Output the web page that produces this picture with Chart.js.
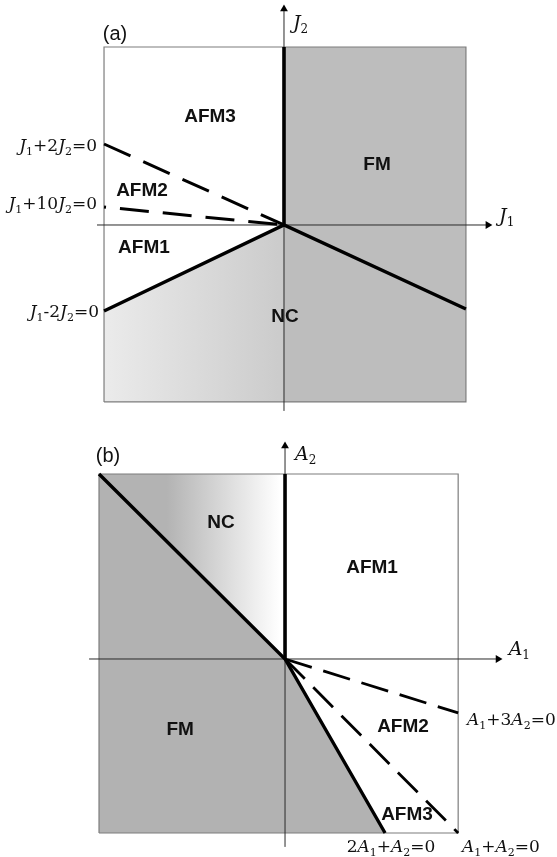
<!DOCTYPE html>
<html>
<head>
<meta charset="utf-8">
<script src="https://cdn.jsdelivr.net/npm/chart.js@4.4.1/dist/chart.umd.min.js"></script>
<style>
  html, body { margin: 0; padding: 0; background: #fff; }
  body { width: 557px; height: 857px; position: relative; overflow: hidden; }
  canvas { position: absolute; left: 0; }
  #chartA { top: 0; }
  #chartB { top: 430px; }
</style>
</head>
<body>
<canvas id="chartA" width="557" height="430"></canvas>
<canvas id="chartB" width="557" height="427"></canvas>
<script>
// ---------- panel (a): J1 / J2 plane ----------
const aViewX = [-1.578, 1.517];           // whole canvas
const aViewY = [-1.139, 1.25];
const aBoxX = [-1, 1.011];                // framed square
const aBoxY = [-0.983, 0.989];
const aAxis1X = [-1.039, 1.133];          // J1 axis (arrow at right end)
const aAxis2Y = [-1.033, 1.2];            // J2 axis (arrow at top end)
const aFmX = [0, 1.011];                  // FM side, shaded down to the frame bottom
const aFmY = [0.989, 0.989];
const aNcX = [-1, 0];                     // NC side, shaded below J1-2J2=0
const aNcY = [-0.478, 0];
const aVertX = [0, 0];
const aVertY = [0, 0.989];
const aSolidX = [-1, 0, 1.011];
const aSolidY = [-0.478, 0, -0.467];
const aDash2X = [-1, 0];
const aDash2Y = [0.45, 0];
const aDash10X = [-1, 0];
const aDash10Y = [0.1, 0];
const aRegionNames = ['AFM3', 'AFM2', 'AFM1', 'NC', 'FM'];
const aRegionX = [-0.411, -0.789, -0.778, 0.006, 0.517];
const aRegionY = [0.6, 0.189, -0.128, -0.511, 0.333];
const aEqNames = ['J_1+2J_2=0', 'J_1+10J_2=0', 'J_1-2J_2=0'];
const aEqX = [-1.039, -1.039, -1.028];
const aEqY = [0.444, 0.122, -0.478];
const aAxisNames = ['J_1', 'J_2'];
const aAxisNameX = [1.195, 0.05];
const aAxisNameY = [0.056, 1.128];

// ---------- panel (b): A1 / A2 plane ----------
const bViewX = [-1.638, 1.563];
const bViewY = [-1.138, 1.316];
const bBoxX = [-1.069, 0.995];
const bBoxY = [-1, 1.063];
const bAxis1X = [-1.126, 1.224];
const bAxis2Y = [-1.08, 1.224];
const bNcX = [-1.069, 0];
const bNcY = [1.063, 1.063];
const bFmX = [-1.069, 0, 0.575];
const bFmY = [1.063, 0, -1];
const bVertX = [0, 0];
const bVertY = [0, 1.063];
const bSolidX = [-1.069, 0, 0.575];
const bSolidY = [1.063, 0, -1];
const bDash1X = [0, 0.995];
const bDash1Y = [0, -1];
const bDash3X = [0, 0.995];
const bDash3Y = [0, -0.31];
const bRegionNames = ['NC', 'AFM1', 'FM', 'AFM2', 'AFM3'];
const bRegionX = [-0.368, 0.5, -0.603, 0.678, 0.701];
const bRegionY = [0.782, 0.523, -0.408, -0.391, -0.897];
const bEqNames = ['A_1+3A_2=0', '2A_1+A_2=0', 'A_1+A_2=0'];
const bEqX = [1.046, 0.609, 1.241];
const bEqY = [-0.345, -1.075, -1.075];
const bEqAlign = ['left', 'center', 'center'];
const bAxisNames = ['A_1', 'A_2'];
const bAxisNameX = [1.285, 0.057];
const bAxisNameY = [0.063, 1.184];

const pts = (xs, ys) => xs.map((x, i) => ({ x: x, y: ys[i] }));

function line(xs, ys, opts) {
    return Object.assign({
        data: pts(xs, ys),
        showLine: true,
        pointRadius: 0,
        borderWidth: 1,
        borderColor: '#000',
        fill: false,
        order: 1
    }, opts);
}

// area between a polyline and the bottom edge of the frame
function shade(xs, ys, floor, color, order) {
    return line(xs, ys, {
        borderColor: 'rgba(0,0,0,0)',
        backgroundColor: color,
        fill: { value: floor },
        order: order
    });
}

// horizontal gradient between two data x values
function hGradient(x0, x1, c0, c1) {
    return (ctx) => {
        const chart = ctx.chart;
        const sx = chart.scales.x;
        if (!sx || !chart.chartArea) return c1;
        const g = chart.ctx.createLinearGradient(sx.getPixelForValue(x0), 0, sx.getPixelForValue(x1), 0);
        g.addColorStop(0, c0);
        g.addColorStop(1, c1);
        return g;
    };
}

function boxBorder(rx, ry) {
    return line([rx[0], rx[0], rx[1], rx[1], rx[0]], [ry[0], ry[1], ry[1], ry[0], ry[0]],
        { borderColor: '#7d7d7d', borderWidth: 1.2, order: 3 });
}

function axes(ax, ay) {
    const arrow = { borderColor: '#2a2a2a', borderWidth: 1, order: 2, pointRadius: [0, 4.5],
        pointStyle: 'triangle', pointBackgroundColor: '#000', pointBorderColor: '#000', pointBorderWidth: 0 };
    return [
        line(ax, [0, 0], Object.assign({ pointRotation: 90 }, arrow)),
        line([0, 0], ay, Object.assign({ pointRotation: 0 }, arrow))
    ];
}

// rich text: capital letters italic, "_d" is a subscript
function drawRich(ctx, str, x, y, align, size) {
    const pieces = [];
    for (let i = 0; i < str.length; i++) {
        if (str[i] === '_') pieces.push({ t: str[++i], sub: true });
        else pieces.push({ t: str[i], it: /[A-Z]/.test(str[i]) });
    }
    const fontFor = p => p.sub ? `${Math.round(size * 0.62)}px "DejaVu Serif"`
        : `${p.it ? 'italic ' : ''}${size}px "DejaVu Serif"`;
    let w = 0;
    pieces.forEach(p => { ctx.font = fontFor(p); p.w = ctx.measureText(p.t).width; w += p.w; });
    let cx = align === 'right' ? x - w : align === 'center' ? x - w / 2 : x;
    const base = y + size * 0.36;
    ctx.textAlign = 'left';
    ctx.textBaseline = 'alphabetic';
    pieces.forEach(p => {
        ctx.font = fontFor(p);
        ctx.fillText(p.t, cx, p.sub ? base + size * 0.2 : base);
        cx += p.w;
    });
}

const phaseLabels = {
    id: 'phaseLabels',
    afterDraw(chart, args, opts) {
        const ctx = chart.ctx;
        const sx = chart.scales.x, sy = chart.scales.y;
        ctx.save();
        ctx.fillStyle = '#111';
        opts.regions.names.forEach((n, i) => {
            ctx.font = 'bold 19px "Liberation Sans", Arial, sans-serif';
            ctx.textAlign = 'center';
            ctx.textBaseline = 'middle';
            ctx.fillText(n, sx.getPixelForValue(opts.regions.x[i]), sy.getPixelForValue(opts.regions.y[i]));
        });
        opts.eqs.names.forEach((n, i) => {
            drawRich(ctx, n, sx.getPixelForValue(opts.eqs.x[i]), sy.getPixelForValue(opts.eqs.y[i]),
                opts.eqs.align[i], 17);
        });
        opts.axisNames.names.forEach((n, i) => {
            drawRich(ctx, n, sx.getPixelForValue(opts.axisNames.x[i]), sy.getPixelForValue(opts.axisNames.y[i]),
                'left', 19);
        });
        ctx.font = '20px "Liberation Sans", Arial, sans-serif';
        ctx.textAlign = 'center';
        ctx.textBaseline = 'middle';
        ctx.fillText(opts.tag.text, sx.getPixelForValue(opts.tag.x), sy.getPixelForValue(opts.tag.y));
        ctx.restore();
    }
};

function makeChart(id, vx, vy, datasets, labels) {
    return new Chart(document.getElementById(id), {
        type: 'scatter',
        plugins: [phaseLabels],
        data: { datasets: datasets },
        options: {
            responsive: false,
            animation: false,
            devicePixelRatio: 1,
            layout: { padding: 0, autoPadding: false },
            scales: {
                x: { type: 'linear', min: vx[0], max: vx[1], display: false },
                y: { type: 'linear', min: vy[0], max: vy[1], display: false }
            },
            plugins: {
                legend: { display: false },
                tooltip: { enabled: false },
                phaseLabels: labels
            }
        }
    });
}

makeChart('chartA', aViewX, aViewY, [
    shade(aFmX, aFmY, aBoxY[0], '#bdbdbd', 10),
    shade(aNcX, aNcY, aBoxY[0], hGradient(-1, 0, '#ebebeb', '#cbcbcb'), 10),
    boxBorder(aBoxX, aBoxY),
    ...axes(aAxis1X, aAxis2Y),
    line(aVertX, aVertY, { borderWidth: 3.6 }),
    line(aSolidX, aSolidY, { borderWidth: 3.4 }),
    line(aDash2X, aDash2Y, { borderWidth: 3, borderDash: [29, 14] }),
    line(aDash10X, aDash10Y, { borderWidth: 3, borderDash: [29, 14], borderDashOffset: 27 })
], {
    regions: { names: aRegionNames, x: aRegionX, y: aRegionY },
    eqs: { names: aEqNames, x: aEqX, y: aEqY, align: ['right', 'right', 'right'] },
    axisNames: { names: aAxisNames, x: aAxisNameX, y: aAxisNameY },
    tag: { text: '(a)', x: -0.939, y: 1.056 }
});

makeChart('chartB', bViewX, bViewY, [
    shade(bNcX, bNcY, bBoxY[0], hGradient(-0.68, -0.03, '#b3b3b3', '#ffffff'), 11),
    shade(bFmX, bFmY, bBoxY[0], '#b2b2b2', 10),
    boxBorder(bBoxX, bBoxY),
    ...axes(bAxis1X, bAxis2Y),
    line(bVertX, bVertY, { borderWidth: 3.6 }),
    line(bSolidX, bSolidY, { borderWidth: 3.4 }),
    line(bDash1X, bDash1Y, { borderWidth: 2.8, borderDash: [28, 12] }),
    line(bDash3X, bDash3Y, { borderWidth: 2.8, borderDash: [28, 12] })
], {
    regions: { names: bRegionNames, x: bRegionX, y: bRegionY },
    eqs: { names: bEqNames, x: bEqX, y: bEqY, align: bEqAlign },
    axisNames: { names: bAxisNames, x: bAxisNameX, y: bAxisNameY },
    tag: { text: '(b)', x: -1.017, y: 1.161 }
});
</script>
</body>
</html>
